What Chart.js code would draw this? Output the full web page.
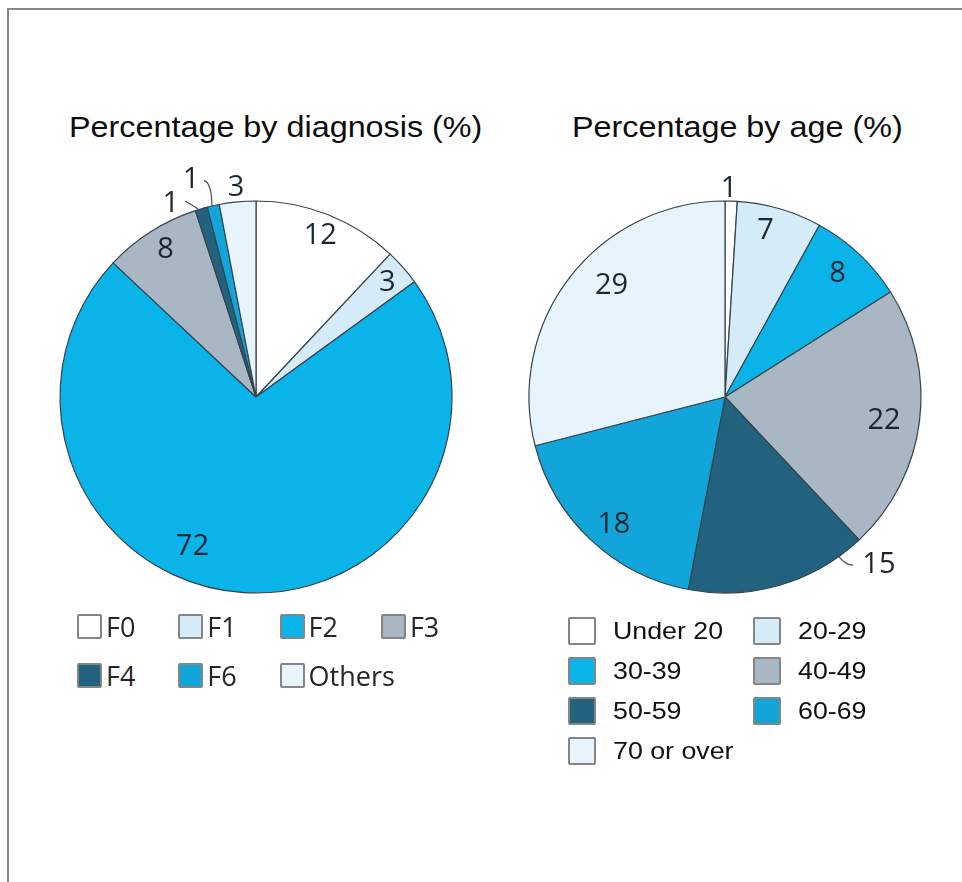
<!DOCTYPE html>
<html>
<head>
<meta charset="utf-8">
<title>Percentage by diagnosis and by age</title>
<script src="https://cdn.jsdelivr.net/npm/chart.js@4.4.1/dist/chart.umd.min.js"></script>
<style>
  html, body { margin: 0; padding: 0; background: #fff; }
  body { width: 962px; height: 882px; position: relative; overflow: hidden;
         font-family: "Liberation Sans", Arial, sans-serif; color: #111; }
  .frame { position: absolute; left: 7px; top: 8px; right: -10px; bottom: -10px;
           border-top: 2px solid #888; border-left: 2px solid #888; }
  .title { position: absolute; top: 113px; font-size: 29px; line-height: 29px; white-space: nowrap;
           transform: scaleX(1.115); transform-origin: 0 0; color: #0d0d0d; }
  canvas { position: absolute; }
  .item { position: absolute; display: flex; align-items: center; white-space: nowrap; }
  .swatch { box-sizing: border-box; border: 2px solid #858585; border-radius: 2px; flex: none; }
  .dx .swatch { width: 25px; height: 25px; }
  .dx span { font-family: "Open Sans", "Noto Sans", sans-serif; font-weight: 500; font-size: 27px;
             line-height: 27px; margin-left: 4px; color: #262626; }
  .ag .swatch { width: 28px; height: 28px; }
  .ag span { font-size: 24px; line-height: 24px; margin-left: 17px; transform: scaleX(1.115);
             transform-origin: 0 50%; color: #111; }
</style>
</head>
<body>
<div class="frame"></div>
<div class="title" style="left:69px">Percentage by diagnosis (%)</div>
<div class="title" style="left:572px">Percentage by age (%)</div>
<canvas id="pieDiagnosis" width="470" height="470" style="left:21px;top:162px"></canvas>
<canvas id="pieAge" width="470" height="470" style="left:490px;top:162px"></canvas>
<div id="legendDiagnosis"></div>
<div id="legendAge"></div>

<script>
// Share of patients by diagnosis group (%)
const diagnosisLabels = ['F0', 'F1', 'F2', 'F3', 'F4', 'F6', 'Others'];
const diagnosisValues = [12, 3, 72, 8, 1, 1, 3];

// Share of patients by age band (%)
const ageLabels = ['Under 20', '20-29', '30-39', '40-49', '50-59', '60-69', '70 or over'];
const ageValues = [1, 7, 8, 22, 15, 18, 29];

// Slice fills
const diagnosisColors = ['#ffffff', '#d5ebf8', '#0ab4e9', '#a8b7c3', '#22627f', '#12a5d9', '#e8f4fc'];
const ageColors = ['#ffffff', '#d5ebf8', '#0ab4e9', '#a8b7c3', '#22627f', '#12a5d9', '#e8f4fc'];

// Where each value label sits: r = fraction of the radius, shift = degrees clockwise from the slice middle.
// Optional leader: polar points (r, shift) for start, bend and end of a thin connector line.
const diagnosisPlacement = [
  { r: 0.892, shift: 0 },
  { r: 0.893, shift: 0 },
  { r: 0.827, shift: 19.5 },
  { r: 0.885, shift: 1 },
  { r: 1.08, shift: -7.5, leader: { from: [1.064, -3.7], bend: [1.03, -2.0], to: [1.0, -0.8] } },
  { r: 1.16, shift: -4, leader: { from: [1.135, -0.9], bend: [1.118, 0.9], to: [1.0, -0.4] } },
  { r: 1.076, shift: 0 }
];
const agePlacement = [
  { r: 1.066, shift: -0.7 },
  { r: 0.877, shift: -2.6 },
  { r: 0.854, shift: -1 },
  { r: 0.82, shift: 1 },
  { r: 1.158, shift: -26.5, leader: { from: [1.078, -21.1], bend: [1.06, -19.6], to: [1.0, -19.3] } },
  { r: 0.861, shift: -2 },
  { r: 0.816, shift: 7 }
];

const RAD = Math.PI / 180;

// Draws each slice's value, plus connector lines for the labels set outside the pie
const sliceLabels = {
  id: 'sliceLabels',
  afterDatasetsDraw(chart, args, opts) {
    const ctx = chart.ctx;
    const meta = chart.getDatasetMeta(0);
    const values = chart.data.datasets[0].data;
    ctx.save();
    ctx.font = '500 29px "Open Sans", "Noto Sans", sans-serif';
    ctx.textAlign = 'center';
    ctx.textBaseline = 'middle';
    meta.data.forEach((arc, i) => {
      const p = opts.placement[i];
      const { x, y, startAngle, endAngle, outerRadius } =
        arc.getProps(['x', 'y', 'startAngle', 'endAngle', 'outerRadius'], true);
      const mid = (startAngle + endAngle) / 2;
      const at = (rf, sh) => [x + Math.cos(mid + sh * RAD) * outerRadius * rf,
                              y + Math.sin(mid + sh * RAD) * outerRadius * rf];
      if (p.leader) {
        const a = at(...p.leader.from), b = at(...p.leader.bend), c = at(...p.leader.to);
        ctx.beginPath();
        ctx.moveTo(a[0], a[1]);
        ctx.quadraticCurveTo(b[0], b[1], c[0], c[1]);
        ctx.strokeStyle = '#4a4a4a';
        ctx.lineWidth = 1.2;
        ctx.stroke();
      }
      const [lx, ly] = at(p.r, p.shift);
      ctx.fillStyle = '#1c2630';
      ctx.fillText(String(values[i]), lx, ly + 1);
    });
    ctx.restore();
  }
};

function makePie(canvasId, labels, values, colors, placement) {
  return new Chart(document.getElementById(canvasId), {
    type: 'pie',
    data: {
      labels: labels,
      datasets: [{
        data: values,
        backgroundColor: colors,
        borderColor: '#34444e',
        borderWidth: 1.2,
        radius: 196
      }]
    },
    options: {
      responsive: false,
      animation: false,
      events: [],
      rotation: 0,
      layout: { padding: 0 },
      plugins: {
        legend: { display: false },
        tooltip: { enabled: false },
        title: { display: false },
        sliceLabels: { placement: placement }
      }
    },
    plugins: [sliceLabels]
  });
}

const diagnosisChart = makePie('pieDiagnosis', diagnosisLabels, diagnosisValues, diagnosisColors, diagnosisPlacement);
const ageChart = makePie('pieAge', ageLabels, ageValues, ageColors, agePlacement);

// Legends built from the charts' own labels and fills
function buildLegend(hostId, chart, cls, cols, x0, colStep, y0, rowStep) {
  const host = document.getElementById(hostId);
  host.className = cls;
  const ds = chart.data.datasets[0];
  chart.data.labels.forEach((lab, i) => {
    const col = i % cols, row = Math.floor(i / cols);
    const item = document.createElement('div');
    item.className = 'item';
    item.style.left = (x0 + col * colStep) + 'px';
    item.style.top = (y0 + row * rowStep) + 'px';
    const sw = document.createElement('div');
    sw.className = 'swatch';
    sw.style.background = ds.backgroundColor[i];
    const tx = document.createElement('span');
    tx.textContent = lab;
    item.appendChild(sw);
    item.appendChild(tx);
    host.appendChild(item);
  });
}
buildLegend('legendDiagnosis', diagnosisChart, 'dx', 4, 77, 101.3, 613, 48.5);
buildLegend('legendAge', ageChart, 'ag', 2, 568, 185, 617, 40);
</script>
</body>
</html>
